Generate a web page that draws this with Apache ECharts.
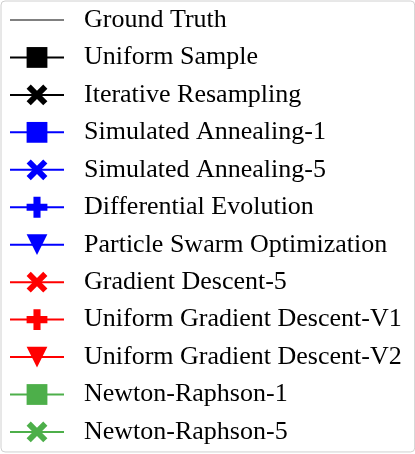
<!DOCTYPE html>
<html><head><meta charset="utf-8">
<script src="https://cdn.jsdelivr.net/npm/echarts@6/dist/echarts.min.js"></script>
<style>html,body{margin:0;padding:0;background:#fff}#c{width:415px;height:454px}</style>
</head><body><div id="c"></div>
<script>
const seriesNames = ["Ground Truth","Uniform Sample","Iterative Resampling","Simulated Annealing-1","Simulated Annealing-5","Differential Evolution","Particle Swarm Optimization","Gradient Descent-5","Uniform Gradient Descent-V1","Uniform Gradient Descent-V2","Newton-Raphson-1","Newton-Raphson-5"];
const seriesColors = ["#808080","#000000","#000000","#0000ff","#0000ff","#0000ff","#0000ff","#ff0000","#ff0000","#ff0000","#4daf4a","#4daf4a"];
const seriesMarkers = ["none","square","x","square","x","plus","tri","x","plus","tri","square","x"];
const seriesValues = [[],[],[],[],[],[],[],[],[],[],[],[]];

const SYM = {
  none: 'path://M0,0 H10 V10 H0 Z',
  square: 'path://M0,0 H10 V10 H0 Z',
  x: 'path://M0,2 L2,0 L5,3 L8,0 L10,2 L7,5 L10,8 L8,10 L5,7 L2,10 L0,8 L3,5 Z',
  plus: 'path://M3.3,0 H6.7 V3.3 H10 V6.7 H6.7 V10 H3.3 V6.7 H0 V3.3 H3.3 Z',
  tri: 'path://M0,0 L10,0 L5,10 Z'
};
const chart = echarts.init(document.getElementById('c'), null, {renderer:'canvas'});
chart.setOption({
  animation:false,
  xAxis:{show:false,type:'value'},
  yAxis:{show:false,type:'value'},
  grid:{show:false},
  legend:{
    orient:'vertical', left:1, top:1,
    padding:[6,13,7,8],
    itemWidth:54, itemHeight:26, itemGap:11.45,
    borderColor:'#d0d0d0', borderWidth:1, borderRadius:4,
    lineStyle:{width:2},
    textStyle:{fontFamily:'Liberation Serif', fontSize:26, lineHeight:26, color:'#000', padding:[0,0,0,15]},
    data: seriesNames
  },
  series: seriesNames.map((n,i)=>({
    name:n, type:'line', data:seriesValues[i],
    symbol:SYM[seriesMarkers[i]], symbolSize:22,
    itemStyle:{color: seriesMarkers[i]==='none' ? 'rgba(0,0,0,0)' : seriesColors[i]},
    lineStyle:{color:seriesColors[i], width:2}
  }))
});
</script></body></html>
